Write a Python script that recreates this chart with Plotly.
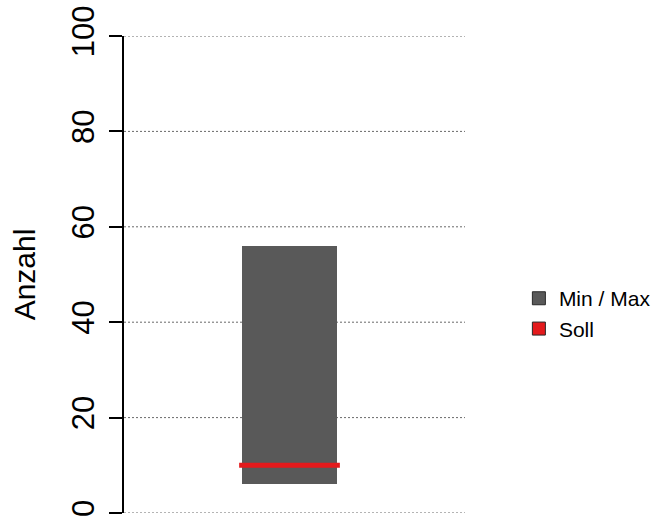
import plotly.graph_objects as go

categories = ["Anzahl"]
min_values = [6]
max_values = [56]
soll_values = [10]
y_ticks = [0, 20, 40, 60, 80, 100]
legend_labels = ["Min / Max", "Soll"]

BAR_COLOR = "rgb(89,89,89)"
RED = "rgb(228,26,28)"
GRID = "rgb(105,105,105)"
FONT = "Liberation Sans, Arial, sans-serif"

fig = go.Figure()

# Min / Max range bar
fig.add_trace(go.Bar(
    x=categories,
    y=[mx - mn for mn, mx in zip(min_values, max_values)],
    base=min_values,
    width=1.0,
    marker=dict(color=BAR_COLOR, line=dict(width=0)),
    showlegend=False,
    hoverinfo="skip",
))

# Soll line across the bar
for cat, s in zip(categories, soll_values):
    fig.add_trace(go.Scatter(
        x=[-0.53, 0.53],
        y=[s, s],
        mode="lines",
        line=dict(color=RED, width=5),
        showlegend=False,
        hoverinfo="skip",
        xaxis="x2",
    ))

# legend entries (square boxes)
for name, col in zip(legend_labels, [BAR_COLOR, RED]):
    fig.add_trace(go.Scatter(
        x=[None], y=[None],
        mode="markers",
        name=name,
        marker=dict(symbol="square", size=13, color=col,
                    line=dict(color="rgb(40,40,40)", width=1)),
    ))

# dotted horizontal grid lines at every tick
for v in y_ticks:
    fig.add_shape(type="line", xref="paper", yref="y",
                  x0=0, x1=1, y0=v, y1=v, layer="below",
                  line=dict(color=GRID, width=1, dash="2px,2px"))

fig.update_layout(
    width=660, height=523,
    margin=dict(l=124, r=195, t=36, b=10, autoexpand=False),
    paper_bgcolor="white",
    plot_bgcolor="white",
    font=dict(family=FONT, color="black"),
    bargap=0,
    xaxis=dict(
        type="category",
        range=[-1.742, 1.847],
        showticklabels=False,
        showgrid=False,
        zeroline=False,
        showline=False,
        ticks="",
    ),
    xaxis2=dict(
        overlaying="x",
        range=[-1.742, 1.847],
        visible=False,
    ),
    yaxis=dict(
        range=[0, 100],
        tickvals=y_ticks,
        ticktext=[str(v) for v in y_ticks],
        tickangle=-90,
        tickfont=dict(size=31, family=FONT, color="black"),
        ticks="outside",
        ticklen=13,
        tickwidth=2,
        tickcolor="black",
        ticklabelstandoff=3,
        showline=True,
        linecolor="black",
        linewidth=2,
        showgrid=False,
        zeroline=False,
        automargin=False,
        title=dict(text="Anzahl", font=dict(size=30, family=FONT, color="black"), standoff=21),
    ),
    legend=dict(
        x=1.158, y=0.418, xanchor="left", yanchor="middle",
        font=dict(size=21, family=FONT, color="black"),
        bgcolor="rgba(0,0,0,0)",
        borderwidth=0,
        tracegroupgap=0,
    ),
)

fig.write_html("out.html")
